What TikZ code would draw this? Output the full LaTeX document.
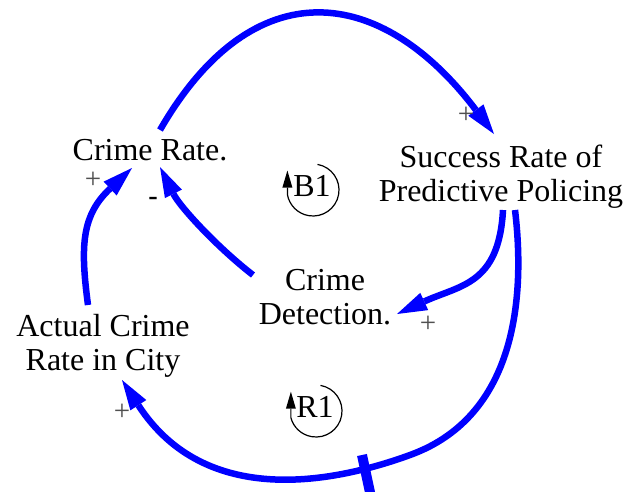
\documentclass[tikz,border=0pt]{standalone}
\usepackage{fontspec}
\setmainfont{Liberation Serif}
\newfontfamily\signsans{Liberation Sans}
\usetikzlibrary{arrows.meta,calc}
\definecolor{linkblue}{RGB}{0,0,255}
\definecolor{signgray}{RGB}{80,80,80}
\begin{document}
\begin{tikzpicture}[x=1pt,y=-1pt,
  var/.style={anchor=north, inner sep=0pt, align=center,
    font=\fontsize{32}{34}\selectfont},
  link/.style={draw=linkblue, line width=6.5pt,
    -{Triangle[length=30pt,width=19pt,line width=0pt]}},
  delaybar/.style={draw=linkblue, line width=10pt},
  pol/.style={text=signgray, inner sep=0pt, font=\fontsize{29}{29}\selectfont},
  neg/.style={text=black, inner sep=0pt, font=\signsans\fontsize{30}{30}\selectfont},
  loopring/.style={draw=black, line width=1.2pt,
    -{Triangle[length=17pt,width=10pt,line width=0pt]}},
  looplabel/.style={inner sep=0pt, font=\fontsize{32}{32}\selectfont}]

\useasboundingbox[fill=white] (0,0) rectangle (628,491);

% variables
\node[var] (cr)  at (150,139) {Crime Rate.};
\node[var] (spp) at (501,145) {Success Rate of\\Predictive Policing};
\node[var] (cd)  at (325,269) {Crime\\Detection.};
\node[var] (acr) at (103,314) {Actual Crime\\Rate in City};

% causal links
\draw[link] ($(cr.north)+(10,-9)$)
  .. controls (253.5,-32) and (381.5,-15) .. ($(spp.north)+(-7,-11)$);
\draw[link] ($(spp.north)+(14,65)$)
  .. controls (524,285) and (522,414.5) .. (410,455)
  .. controls (336,482) and (206,509.5) .. ($(acr.north)+(19,66)$);
\draw[link] ($(spp.north)+(2,65)$)
  .. controls (499,285) and (460,285) .. ($(cd.north)+(72,45)$);
\draw[link] ($(cd.north)+(-72,6)$)
  .. controls (217.5,247.5) and (180,207) .. ($(cr.north)+(10,28)$);
\draw[link] ($(acr.north)+(-15,-9)$)
  .. controls (80,245) and (82,215) .. ($(cr.north)+(-18,29)$);

% delay mark on the long link
\draw[delaybar] (362,455) -- (371,497);

% link polarities
\node[pol] (p1) at (466,115) {+};
\node[pol] (p2) at (93,180) {+};
\node[neg] (m1) at (153,202) {-};
\node[pol] (p3) at (428,324) {+};
\node[pol] (p4) at (122,412) {+};

% loop identifiers
\coordinate (b1c) at (313,190);
\draw[loopring] ($(b1c)+(-80:26)$) arc[start angle=-80, end angle=170, radius=26] -- ++(0,-24);
\node[looplabel] (b1) at (312,186) {B1};

\coordinate (r1c) at (316,411);
\draw[loopring] ($(r1c)+(-80:26)$) arc[start angle=-80, end angle=165, radius=26] -- ++(0,-26);
\node[looplabel] (r1) at (315,407) {R1};

\end{tikzpicture}
\end{document}
